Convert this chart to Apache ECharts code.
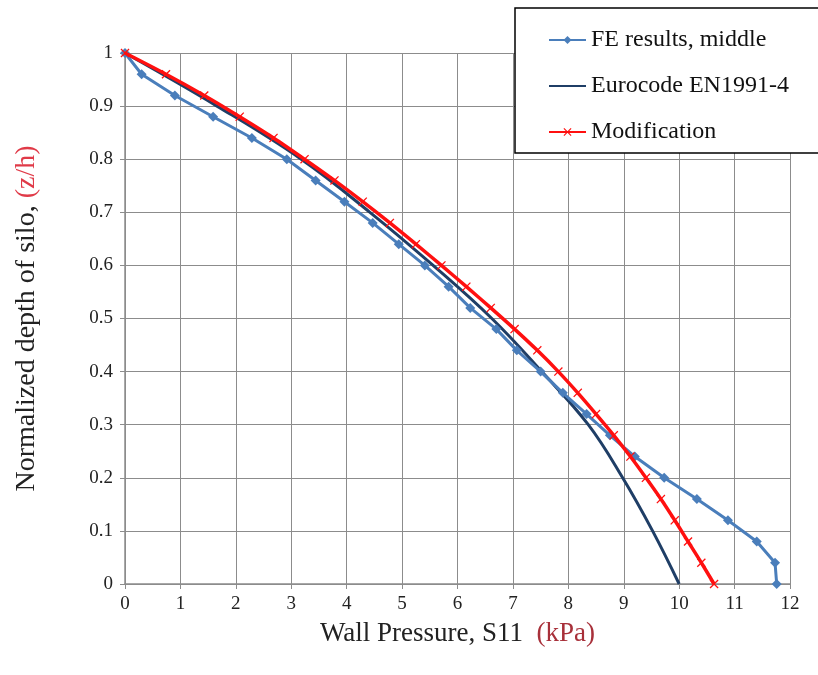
<!DOCTYPE html>
<html>
<head>
<meta charset="utf-8">
<script src="https://cdn.jsdelivr.net/npm/echarts@6/dist/echarts.min.js"></script>
<style>html,body{margin:0;padding:0;background:#fff}#c{width:818px;height:675px}</style>
</head>
<body>
<div id="c"></div>
<script>
// Normalized depth z/h (points every 0.04) and FE wall pressure (kPa)
const feDepth = [1, 0.96, 0.92, 0.88, 0.84, 0.80, 0.76, 0.72, 0.68, 0.64, 0.60, 0.56, 0.52, 0.48, 0.44, 0.40, 0.36, 0.32, 0.28, 0.24, 0.20, 0.16, 0.12, 0.08, 0.04, 0];
const fePressure = [0, 0.3, 0.9, 1.59, 2.29, 2.92, 3.44, 3.96, 4.47, 4.94, 5.41, 5.84, 6.23, 6.7, 7.07, 7.5, 7.9, 8.33, 8.75, 9.2, 9.73, 10.32, 10.88, 11.4, 11.73, 11.76];

// Eurocode EN1991-4 curve
const ecDepth = [1, 0.9, 0.8, 0.7, 0.6, 0.5, 0.4, 0.3, 0.2, 0.1, 0];
const ecPressure = [0, 1.66, 3.18, 4.42, 5.56, 6.62, 7.52, 8.36, 8.98, 9.52, 10.0];

// Modification curve (markers every 0.04)
const modDepth = [1, 0.96, 0.92, 0.88, 0.84, 0.80, 0.76, 0.72, 0.68, 0.64, 0.60, 0.56, 0.52, 0.48, 0.44, 0.40, 0.36, 0.32, 0.28, 0.24, 0.20, 0.16, 0.12, 0.08, 0.04, 0];
const modPressure = [0, 0.74, 1.43, 2.07, 2.68, 3.24, 3.78, 4.29, 4.78, 5.25, 5.71, 6.16, 6.6, 7.03, 7.44, 7.82, 8.17, 8.5, 8.82, 9.12, 9.4, 9.67, 9.92, 10.16, 10.4, 10.63];

const seriesNames = ['FE results, middle', 'Eurocode EN1991-4', 'Modification'];
const xTicks = [0, 12, 1];
const yTicks = [0, 1, 0.1];

const pair = (xs, ys) => xs.map((x, i) => [x, ys[i]]);
const serif = '"Liberation Serif", "DejaVu Serif", serif';
const crossPath = 'path://M0,1 L1,0 L5,4 L9,0 L10,1 L6,5 L10,9 L9,10 L5,6 L1,10 L0,9 L4,5 Z';

const chart = echarts.init(document.getElementById('c'), null, {renderer: 'canvas'});
chart.setOption({
  backgroundColor: '#ffffff',
  animation: false,
  grid: {left: 125, right: 28, top: 53, bottom: 91, containLabel: false},
  legend: {
    data: [
      {name: seriesNames[0]},
      {name: seriesNames[1], itemStyle: {opacity: 0}},
      {name: seriesNames[2]}
    ],
    orient: 'vertical',
    left: 515,
    top: 8,
    padding: [20, 80, 9, 33],
    itemGap: 22,
    itemWidth: 37,
    itemHeight: 10,
    borderColor: '#000',
    borderWidth: 1.5,
    backgroundColor: '#fff',
    textStyle: {fontFamily: serif, fontSize: 24, color: '#111'}
  },
  xAxis: {
    type: 'value',
    min: xTicks[0], max: xTicks[1], interval: xTicks[2],
    name: '{a|Wall Pressure, S11  }{b|(kPa)}',
    nameLocation: 'middle',
    nameGap: 36,
    nameTextStyle: {
      rich: {
        a: {fontFamily: serif, fontSize: 27, color: '#222'},
        b: {fontFamily: serif, fontSize: 27, color: '#a8303a'}
      }
    },
    axisLine: {onZero: false, lineStyle: {color: '#8c8c8c', width: 1.5}},
    axisTick: {show: true, length: 5, lineStyle: {color: '#8c8c8c'}},
    axisLabel: {fontFamily: serif, fontSize: 19, color: '#222', margin: 11},
    splitLine: {show: true, lineStyle: {color: '#8c8c8c', width: 1}}
  },
  yAxis: {
    type: 'value',
    min: yTicks[0], max: yTicks[1], interval: yTicks[2],
    name: '{a|Normalized depth of silo, }{b|(z/h)}',
    nameLocation: 'middle',
    nameGap: 84,
    nameRotate: 90,
    nameTextStyle: {
      rich: {
        a: {fontFamily: serif, fontSize: 28, color: '#222'},
        b: {fontFamily: serif, fontSize: 28, color: '#e03a48'}
      }
    },
    axisLine: {onZero: false, lineStyle: {color: '#8c8c8c', width: 1.5}},
    axisTick: {show: true, length: 5, lineStyle: {color: '#8c8c8c'}},
    axisLabel: {fontFamily: serif, fontSize: 19, color: '#222', margin: 12},
    splitLine: {show: true, lineStyle: {color: '#8c8c8c', width: 1}}
  },
  series: [
    {
      name: seriesNames[0], type: 'line', z: 3,
      data: pair(fePressure, feDepth),
      symbol: 'diamond', symbolSize: 10,
      lineStyle: {color: '#4a7ebb', width: 3},
      itemStyle: {color: '#4a7ebb'}
    },
    {
      name: seriesNames[1], type: 'line', z: 2,
      data: pair(ecPressure, ecDepth),
      smooth: 0.4, showSymbol: false, symbol: 'none',
      lineStyle: {color: '#1f3e66', width: 3},
      itemStyle: {color: '#1f3e66'}
    },
    {
      name: seriesNames[2], type: 'line', z: 4,
      data: pair(modPressure, modDepth),
      smooth: 0.3,
      symbol: crossPath, symbolSize: 9,
      lineStyle: {color: '#ff1010', width: 3.5},
      itemStyle: {color: '#ff1010'}
    }
  ]
});
</script>
</body>
</html>
